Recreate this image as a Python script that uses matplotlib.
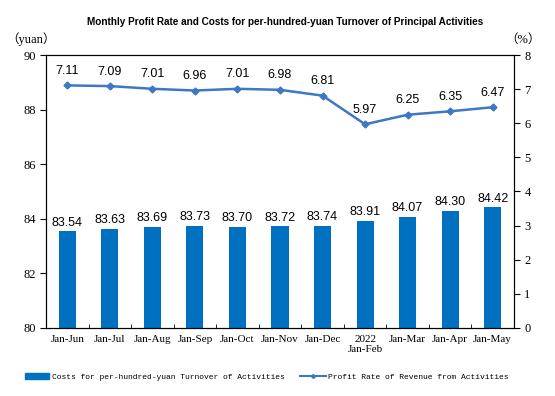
import matplotlib.pyplot as plt
import numpy as np
from matplotlib.lines import Line2D
from matplotlib.patches import Patch

periods = ["Jan-Jun", "Jan-Jul", "Jan-Aug", "Jan-Sep", "Jan-Oct", "Jan-Nov",
           "Jan-Dec", "2022\nJan-Feb", "Jan-Mar", "Jan-Apr", "Jan-May"]
costs = [83.54, 83.63, 83.69, 83.73, 83.70, 83.72, 83.74, 83.91, 84.07, 84.30, 84.42]
profit_rate = [7.11, 7.09, 7.01, 6.96, 7.01, 6.98, 6.81, 5.97, 6.25, 6.35, 6.47]

BAR_COLOR = "#0070C0"
LINE_COLOR = "#3D78C4"
SERIF = "Liberation Serif"
SANS = "Liberation Sans"
MONO = "Liberation Mono"

fig = plt.figure(figsize=(5.55, 3.96), dpi=100)
ax = fig.add_axes([0.083, 0.172, 0.843, 0.689])
ax2 = ax.twinx()

x = np.arange(len(periods))
ax.bar(x, costs, width=0.4, color=BAR_COLOR, zorder=2)
for xi, v in zip(x, costs):
    ax.text(xi, v + 0.1, f"{v:.2f}", ha="center", va="bottom", fontsize=9, family=SANS)

ax.set_ylim(80, 90)
ax.set_yticks(np.arange(80, 91, 2))
ax.set_xlim(-0.5, len(periods) - 0.5)
ax.set_xticks(x)
ax.set_xticklabels(periods, family=SERIF, fontsize=8)
ax.set_xticks(np.arange(-0.5, len(periods), 1), minor=True)
ax.tick_params(axis="x", which="major", length=0, pad=5)
ax.tick_params(axis="x", which="minor", direction="in", length=3)
ax.tick_params(axis="y", direction="out", length=4, labelsize=9)
for lab in ax.get_yticklabels():
    lab.set_family(SERIF)

ax2.plot(x, profit_rate, color=LINE_COLOR, marker="D", markersize=3.5, linewidth=1.8, zorder=3)
for xi, v in zip(x, profit_rate):
    ax2.text(xi, v + 0.25, f"{v:.2f}", ha="center", va="bottom", fontsize=9, family=SANS)
ax2.set_ylim(0, 8)
ax2.set_yticks(np.arange(0, 9, 1))
ax2.tick_params(axis="y", direction="out", length=4, labelsize=9)
for lab in ax2.get_yticklabels():
    lab.set_family(SERIF)

for a in (ax, ax2):
    for s in a.spines.values():
        s.set_linewidth(0.8)

fig.text(0.514, 0.945, "Monthly Profit Rate and Costs for per-hundred-yuan Turnover of Principal Activities",
         ha="center", va="center", fontsize=7.2, fontweight="bold", family=SANS)
fig.text(0.012, 0.9, "（yuan）", fontsize=9, family=[SERIF, "Noto Sans CJK SC"], va="center")
fig.text(0.91, 0.9, "（%）", fontsize=9, family=[SERIF, "Noto Sans CJK SC"], va="center")

handles = [Patch(color=BAR_COLOR),
           Line2D([], [], color=LINE_COLOR, marker="D", markersize=2, linewidth=1.5)]
fig.legend([handles[0]], ["Costs for per-hundred-yuan Turnover of Activities"],
           loc="center left", bbox_to_anchor=(0.045, 0.048), frameon=False,
           prop={"family": MONO, "size": 5.8}, handlelength=3.0, handletextpad=0.3,
           borderaxespad=0, borderpad=0)
fig.legend([handles[1]], ["Profit Rate of Revenue from Activities"],
           loc="center left", bbox_to_anchor=(0.54, 0.048), frameon=False,
           prop={"family": MONO, "size": 5.8}, handlelength=3.3, handletextpad=0.2,
           borderaxespad=0, borderpad=0)

fig.savefig("out.png", dpi=100)
